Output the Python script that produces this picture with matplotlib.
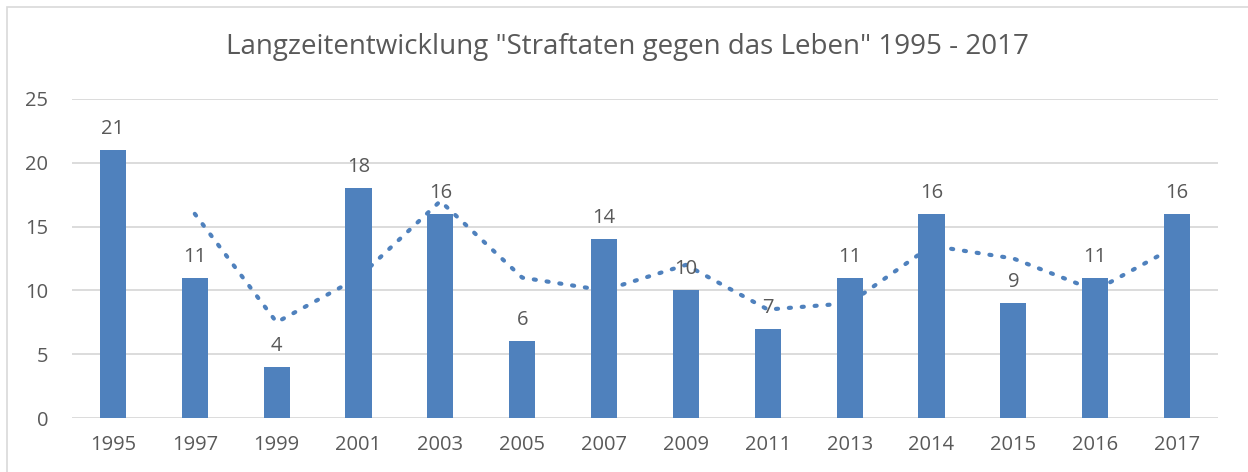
import numpy as np
import matplotlib.pyplot as plt
from matplotlib.patches import Rectangle

plt.rcParams.update({
    'font.family': ['Open Sans', 'DejaVu Sans'],
})

years = ['1995', '1997', '1999', '2001', '2003', '2005', '2007',
         '2009', '2011', '2013', '2014', '2015', '2016', '2017']
cases = [21, 11, 4, 18, 16, 6, 14, 10, 7, 11, 16, 9, 11, 16]
# dotted trend line (2-period moving average), starts at 1997
trend = [16, 7.5, 11, 17, 11, 10, 12, 8.5, 9, 13.5, 12.5, 10, 13.5]

bar_color = '#4F81BD'
text_color = '#595959'
grid_color = '#D9D9D9'

fig = plt.figure(figsize=(12.48, 4.72), dpi=100)
ax = fig.add_axes([72 / 1248, 1 - 418 / 472, 1146 / 1248, 319 / 472])

x = np.arange(len(years))
bars = ax.bar(x, cases, width=0.32, color=bar_color, zorder=3)
ax.plot(x[1:], trend, linestyle=(0, (0.5, 2.6)), color=bar_color, linewidth=3.0,
        dash_capstyle='round', zorder=4)

for xi, v in zip(x, cases):
    ax.annotate(str(v), (xi, v), xytext=(0, 8), textcoords='offset points',
                ha='center', va='bottom', fontsize=14.5, color=text_color, zorder=5)

ax.set_xlim(-0.5, len(years) - 0.5)
ax.set_ylim(0, 25)
ax.set_yticks([0, 5, 10, 15, 20, 25])
ax.set_xticks(x)
ax.set_xticklabels(years)
ax.tick_params(axis='both', length=0, labelsize=14.5, labelcolor=text_color)
ax.tick_params(axis='x', pad=12)
ax.tick_params(axis='y', pad=17)
ax.grid(axis='y', color=grid_color, linewidth=1.3, zorder=0)
for s in ax.spines.values():
    s.set_visible(False)

fig.text(627 / 1248, 1 - 47 / 472, 'Langzeitentwicklung "Straftaten gegen das Leben" 1995 - 2017',
         ha='center', va='center', fontsize=20, color=text_color)

fig.patches.append(Rectangle((7 / 1248, -0.01), 1.0, 1 - 7 / 472 + 0.01,
                             transform=fig.transFigure, fill=False,
                             edgecolor='#D9D9D9', linewidth=1.2))

fig.savefig('out.png', dpi=100)
